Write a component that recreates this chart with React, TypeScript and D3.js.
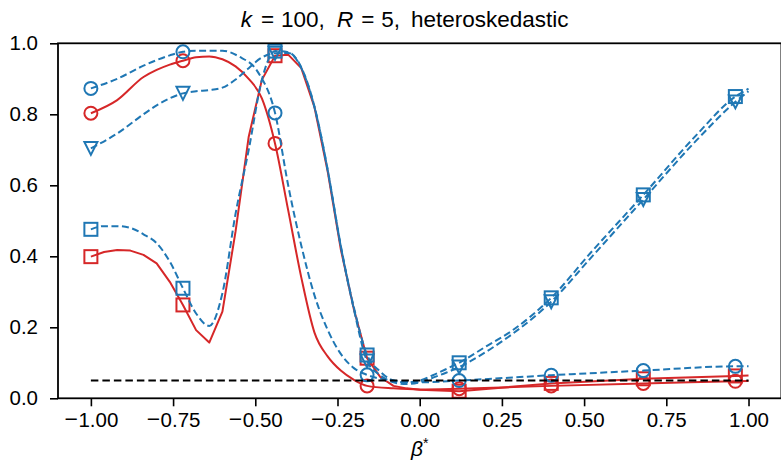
import React, { useEffect, useRef } from "react";
import * as d3 from "d3";

// beta* positions that carry a marker
const markerBeta = [-1, -0.72, -0.44, -0.16, 0.12, 0.4, 0.68, 0.96];
const xTicks = [-1, -0.75, -0.5, -0.25, 0, 0.25, 0.5, 0.75, 1];
const yTicks = [0, 0.2, 0.4, 0.6, 0.8, 1.0];
const nominalLevel = 0.05;

// blue dashed, circles
const blueCircleBeta = [-1, -0.92, -0.84, -0.76, -0.72, -0.68, -0.6, -0.55, -0.49, -0.44, -0.4, -0.36, -0.32, -0.28, -0.24, -0.2, -0.16, -0.08, 0, 0.12, 0.4, 0.68, 0.96, 1];
const blueCircleVals = [0.873, 0.9, 0.937, 0.966, 0.976, 0.979, 0.979, 0.963, 0.916, 0.804, 0.6, 0.43, 0.29, 0.193, 0.125, 0.085, 0.066, 0.05, 0.045, 0.05, 0.065, 0.078, 0.09, 0.09];

// red solid, circles
const redCircleBeta = [-1, -0.92, -0.84, -0.8, -0.76, -0.72, -0.68, -0.64, -0.6, -0.56, -0.52, -0.48, -0.44, -0.4, -0.36, -0.32, -0.28, -0.24, -0.2, -0.16, -0.08, 0, 0.12, 0.4, 0.68, 0.96, 1];
const redCircleVals = [0.803, 0.84, 0.905, 0.925, 0.94, 0.951, 0.961, 0.963, 0.955, 0.935, 0.9, 0.845, 0.718, 0.53, 0.34, 0.185, 0.118, 0.078, 0.052, 0.035, 0.028, 0.025, 0.027, 0.035, 0.042, 0.048, 0.049];

// blue dashed, triangles
const blueTriBeta = [-1, -0.92, -0.84, -0.8, -0.76, -0.72, -0.68, -0.64, -0.6, -0.56, -0.52, -0.48, -0.44, -0.4, -0.36, -0.32, -0.28, -0.24, -0.2, -0.16, -0.12, -0.08, -0.04, 0, 0.04, 0.08, 0.12, 0.2, 0.28, 0.4, 0.52, 0.68, 0.84, 0.96, 1];
const blueTriVals = [0.704, 0.746, 0.8, 0.825, 0.845, 0.859, 0.865, 0.868, 0.875, 0.898, 0.93, 0.96, 0.972, 0.973, 0.93, 0.82, 0.643, 0.428, 0.25, 0.105, 0.065, 0.045, 0.04, 0.045, 0.058, 0.072, 0.088, 0.13, 0.18, 0.272, 0.395, 0.56, 0.725, 0.835, 0.865];

// blue dashed, squares
const blueSqBeta = [-1, -0.96, -0.92, -0.88, -0.84, -0.8, -0.76, -0.72, -0.68, -0.64, -0.6, -0.56, -0.52, -0.48, -0.44, -0.4, -0.36, -0.32, -0.28, -0.24, -0.2, -0.16, -0.12, -0.08, -0.04, 0, 0.04, 0.08, 0.12, 0.2, 0.28, 0.4, 0.52, 0.68, 0.84, 0.96, 1];
const blueSqVals = [0.476, 0.485, 0.485, 0.48, 0.462, 0.437, 0.385, 0.31, 0.239, 0.204, 0.296, 0.52, 0.7, 0.897, 0.978, 0.975, 0.932, 0.822, 0.645, 0.43, 0.255, 0.122, 0.075, 0.05, 0.045, 0.05, 0.065, 0.082, 0.1, 0.145, 0.19, 0.283, 0.41, 0.573, 0.74, 0.85, 0.872];

// red solid, squares
const redSqBeta = [-1, -0.96, -0.92, -0.88, -0.84, -0.8, -0.76, -0.72, -0.68, -0.64, -0.6, -0.56, -0.52, -0.48, -0.44, -0.4, -0.36, -0.32, -0.28, -0.24, -0.2, -0.16, -0.12, -0.08, -0.04, 0, 0.12, 0.4, 0.68, 0.96, 1];
const redSqVals = [0.399, 0.412, 0.418, 0.416, 0.404, 0.38, 0.328, 0.263, 0.192, 0.157, 0.244, 0.47, 0.737, 0.897, 0.965, 0.968, 0.93, 0.82, 0.64, 0.42, 0.25, 0.113, 0.06, 0.035, 0.028, 0.024, 0.02, 0.042, 0.055, 0.063, 0.064];

const BLUE = "#1f77b4";
const RED = "#d62728";

const series = [
  { beta: redCircleBeta, vals: redCircleVals, color: RED, dash: null, marker: "circle", curve: d3.curveMonotoneX },
  { beta: redSqBeta, vals: redSqVals, color: RED, dash: null, marker: "square", curve: d3.curveLinear },
  { beta: blueCircleBeta, vals: blueCircleVals, color: BLUE, dash: "7,3.5", marker: "circle", curve: d3.curveMonotoneX },
  { beta: blueTriBeta, vals: blueTriVals, color: BLUE, dash: "7,3.5", marker: "triangle", curve: d3.curveMonotoneX },
  { beta: blueSqBeta, vals: blueSqVals, color: BLUE, dash: "7,3.5", marker: "square", curve: d3.curveMonotoneX },
];

const W = 781, H = 468;
const margin = { top: 43.3, bottom: 69.7, left: 58 };
const plotRight = 781.4;
const FONT = "'Liberation Sans', Arial, sans-serif";

function App() {
  const ref = useRef<SVGSVGElement>(null);

  useEffect(() => {
    const svg = d3.select(ref.current);
    svg.selectAll("*").remove();

    const x = d3.scaleLinear().domain([-1.1, 1.1]).range([margin.left, plotRight]);
    const y = d3.scaleLinear().domain([0, 1]).range([H - margin.bottom, margin.top]);

    const g = svg.append("g");

    series.forEach(s => {
      const line = d3.line<[number, number]>()
        .x(d => x(d[0]))
        .y(d => y(d[1]))
        .curve(s.curve);
      const pts = s.beta.map((b, i) => [b, s.vals[i]] as [number, number]);
      g.append("path")
        .attr("d", line(pts))
        .attr("fill", "none")
        .attr("stroke", s.color)
        .attr("stroke-width", 2)
        .attr("stroke-linejoin", "round")
        .attr("stroke-dasharray", s.dash);

      const marks = markerBeta.map(b => [b, s.vals[s.beta.indexOf(b)]]);
      marks.forEach(([b, v]) => {
        const cx = x(b), cy = y(v);
        let el;
        if (s.marker === "circle") {
          el = g.append("circle").attr("cx", cx).attr("cy", cy).attr("r", 6.5);
        } else if (s.marker === "square") {
          el = g.append("rect").attr("x", cx - 6.5).attr("y", cy - 6.5).attr("width", 13).attr("height", 13);
        } else {
          el = g.append("path").attr("d", `M${cx - 6.5},${cy - 6.5}L${cx + 6.5},${cy - 6.5}L${cx},${cy + 6.5}Z`);
        }
        el.attr("fill", "none").attr("stroke", s.color).attr("stroke-width", 2);
      });
    });

    g.append("line")
      .attr("x1", x(-1)).attr("x2", x(1))
      .attr("y1", y(nominalLevel)).attr("y2", y(nominalLevel))
      .attr("stroke", "#000")
      .attr("stroke-width", 2)
      .attr("stroke-dasharray", "7.5,4");

    // axes
    const xAxis = svg.append("g")
      .attr("transform", `translate(0, ${H - margin.bottom})`)
      .call(d3.axisBottom(x).tickValues(xTicks).tickFormat(d3.format(".2f")).tickSizeOuter(0).tickSize(8).tickPadding(6));
    const yAxis = svg.append("g")
      .attr("transform", `translate(${margin.left}, 0)`)
      .call(d3.axisLeft(y).tickValues(yTicks).tickFormat(d3.format(".1f")).tickSizeOuter(0).tickSize(8).tickPadding(12));

    [xAxis, yAxis].forEach(a => {
      a.select(".domain").remove();
      a.selectAll("line").attr("stroke", "#000").attr("stroke-width", 1.6);
      a.selectAll("text").attr("font-family", FONT).attr("font-size", 20.5).attr("fill", "#000");
    });
    // slightly wider minus, as in the LaTeX tick labels
    xAxis.selectAll<SVGTextElement, number>("text").each(function (d) {
      if (d < 0) {
        const t = d3.select(this);
        const s = t.text();
        t.text(null);
        t.append("tspan").attr("font-size", 23).text("\u2212");
        t.append("tspan").attr("dx", 0.5).text(s.slice(1));
      }
    });

    // spines
    svg.append("rect")
      .attr("x", margin.left).attr("y", margin.top)
      .attr("width", plotRight - margin.left).attr("height", H - margin.bottom - margin.top)
      .attr("fill", "none").attr("stroke", "#000").attr("stroke-width", 1.8);

    const cx = (margin.left + plotRight) / 2;
    const title = svg.append("text")
      .attr("x", cx - 179)
      .attr("y", 27)
      .attr("font-family", FONT)
      .attr("font-size", 22.5);
    title.append("tspan").attr("font-style", "italic").text("k");
    title.append("tspan").attr("dx", 9).text("=");
    title.append("tspan").attr("dx", 7).text("100,");
    title.append("tspan").attr("dx", 12).attr("font-style", "italic").text("R");
    title.append("tspan").attr("dx", 8).text("=");
    title.append("tspan").attr("dx", 7).text("5,");
    title.append("tspan").attr("dx", 11).text("heteroskedastic");

    const xl = svg.append("text")
      .attr("x", cx)
      .attr("y", 456)
      .attr("text-anchor", "middle")
      .attr("font-family", FONT)
      .attr("font-size", 21);
    xl.append("tspan").attr("font-style", "italic").text("β");
    xl.append("tspan").attr("dy", -8).attr("font-size", 14).text("*");
  }, []);

  return (
    <svg ref={ref} width={W} height={H} style={{ position: "absolute", left: 0, top: 0, background: "#fff" }} />
  );
}

export default App;
